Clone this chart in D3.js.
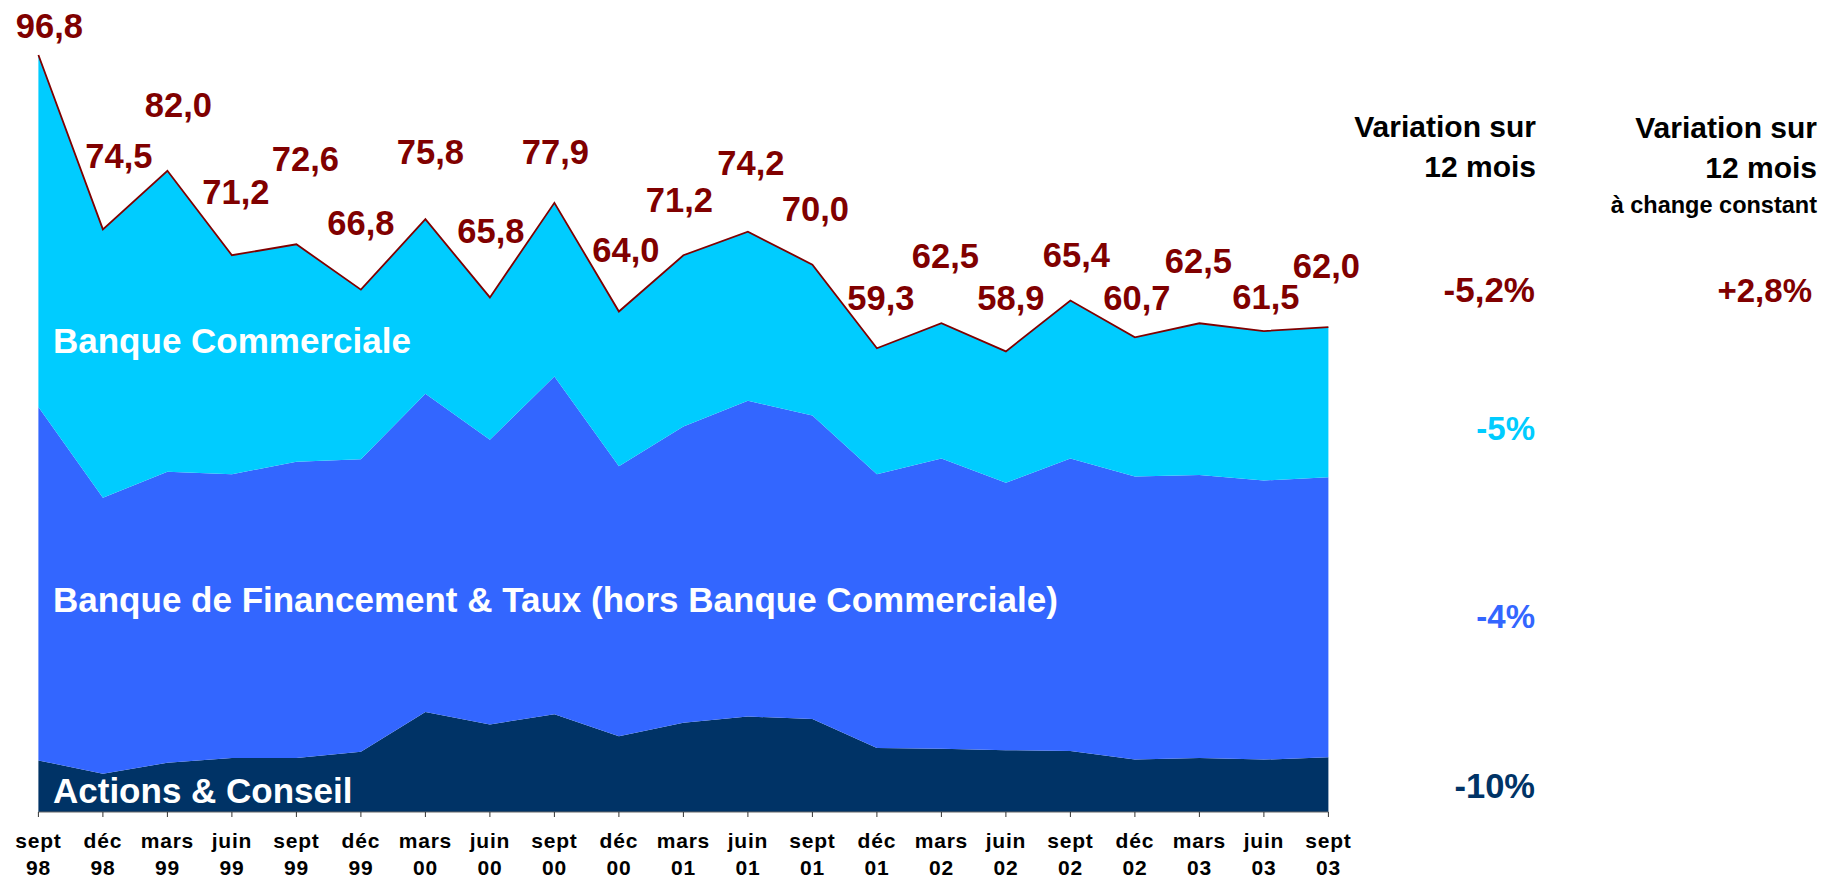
<!DOCTYPE html>
<html>
<head>
<meta charset="utf-8">
<script src="https://cdn.jsdelivr.net/npm/d3@7"></script>
<style>
  body { margin: 0; background: #fff; }
  text { font-family: "Liberation Sans", Arial, sans-serif; font-weight: bold; }
</style>
</head>
<body>
<div id="chart"></div>
<script>
// quarters on the x axis (month / year)
const months = ["sept", "déc", "mars", "juin", "sept", "déc", "mars", "juin", "sept", "déc", "mars",
                "juin", "sept", "déc", "mars", "juin", "sept", "déc", "mars", "juin", "sept"];
const years = ["98", "98", "99", "99", "99", "99", "00", "00", "00", "00", "01",
               "01", "01", "01", "02", "02", "02", "02", "03", "03", "03"];

// stacked series, bottom to top
const actionsConseil = [6.6, 4.9, 6.3, 6.9, 6.9, 7.7, 12.8, 11.2, 12.5, 9.7, 11.4,
                        12.2, 11.9, 8.2, 8.1, 7.9, 7.8, 6.7, 6.9, 6.7, 7.0];
const financementTaux = [45.2, 35.3, 37.2, 36.3, 37.9, 37.4, 40.7, 36.4, 43.2, 34.5, 37.9,
                         40.4, 38.8, 35.0, 37.1, 34.2, 37.4, 36.2, 36.2, 35.7, 35.8];
const banqueCommerciale = [45.0, 34.3, 38.5, 28.0, 27.8, 21.7, 22.3, 18.2, 22.2, 19.8, 21.9,
                           21.6, 19.3, 16.1, 17.3, 16.8, 20.2, 17.8, 19.4, 19.1, 19.2];

const seriesNames = ["Actions & Conseil", "Banque de Financement & Taux (hors Banque Commerciale)", "Banque Commerciale"];
const variations = ["-10%", "-4%", "-5%"];
const totalVariation = "-5,2%";
const totalVariationFx = "+2,8%";

// hand placed value labels (pixel nudge from the point, like in the original)
const labelNudge = [[11, -17], [16, -61], [11, -54], [4, -51], [9, -73], [0, -55], [5, -55],
                    [1, -54], [1, -39], [7, -50], [-4, -43], [3, -57], [3, -44], [4, -38],
                    [4, -55], [5, -41], [6, -34], [2, -27], [-1, -50], [2, -22], [-2, -49]];

const width = 1824, height = 878;
const colors = ["#003366", "#3366FF", "#00CCFF"];
const dark = "#800000";

const svg = d3.select("#chart")
    .append("svg")
    .attr("width", width)
    .attr("height", height);

const keys = months.map((m, i) => i);
const rows = keys.map(i => ({
    i: i,
    ac: actionsConseil[i],
    bft: financementTaux[i],
    bc: banqueCommerciale[i]
}));

const x = d3.scalePoint().domain(keys).range([38.4, 1328.4]);
const y = d3.scaleLinear().domain([0, 100]).range([812, 30]);

const stack = d3.stack().keys(["ac", "bft", "bc"]);
const layers = stack(rows);

const area = d3.area()
    .x(d => x(d.data.i))
    .y0(d => y(d[0]))
    .y1(d => y(d[1]));

svg.selectAll(".layer")
    .data(layers)
    .enter()
    .append("path")
    .attr("class", "layer")
    .attr("d", area)
    .style("fill", (d, i) => colors[i]);

// total line on top
const topLayer = layers[2];
svg.append("path")
    .attr("d", d3.line().x(d => x(d.data.i)).y(d => y(d[1]))(topLayer))
    .style("fill", "none")
    .style("stroke", dark)
    .style("stroke-width", 1.8);

// value labels
svg.selectAll(".val")
    .data(topLayer)
    .enter()
    .append("text")
    .attr("class", "val")
    .attr("x", (d, i) => x(d.data.i) + labelNudge[i][0])
    .attr("y", (d, i) => y(d[1]) + labelNudge[i][1])
    .attr("text-anchor", "middle")
    .style("font-size", "34.5px")
    .style("fill", dark)
    .text(d => d[1].toFixed(1).replace(".", ","));

// x axis
const axis = svg.append("g").attr("transform", "translate(0,812)");
axis.append("line")
    .attr("x1", x(0)).attr("x2", x(keys.length - 1))
    .style("stroke", "#666").style("stroke-width", 1);
axis.selectAll(".tick")
    .data(keys)
    .enter()
    .append("line")
    .attr("x1", d => x(d)).attr("x2", d => x(d))
    .attr("y1", 0).attr("y2", 5)
    .style("stroke", "#333");

const xl = svg.selectAll(".xl")
    .data(keys)
    .enter()
    .append("text")
    .attr("class", "xl")
    .attr("text-anchor", "middle")
    .style("font-size", "21px")
    .style("letter-spacing", "0.8px")
    .style("fill", "#000");
xl.append("tspan").attr("x", d => x(d)).attr("y", 848).text(d => months[d]);
xl.append("tspan").attr("x", d => x(d)).attr("y", 875).text(d => years[d]);

// series names inside the areas
const nameY = [803, 612, 353];
svg.selectAll(".name")
    .data(seriesNames)
    .enter()
    .append("text")
    .attr("class", "name")
    .attr("x", 53)
    .attr("y", (d, i) => nameY[i])
    .style("font-size", "35px")
    .style("fill", "#fff")
    .text(d => d);

// right hand column
const head1 = svg.append("text").attr("text-anchor", "end").style("font-size", "30px").style("fill", "#000");
head1.append("tspan").attr("x", 1536).attr("y", 137).text("Variation sur");
head1.append("tspan").attr("x", 1536).attr("y", 177).text("12 mois");

const head2 = svg.append("text").attr("text-anchor", "end").style("font-size", "30px").style("fill", "#000");
head2.append("tspan").attr("x", 1817).attr("y", 138).text("Variation sur");
head2.append("tspan").attr("x", 1817).attr("y", 178).text("12 mois");
svg.append("text")
    .attr("x", 1817).attr("y", 213)
    .attr("text-anchor", "end")
    .style("font-size", "23.5px")
    .text("à change constant");

svg.append("text")
    .attr("x", 1535).attr("y", 302)
    .attr("text-anchor", "end")
    .style("font-size", "35px")
    .style("fill", dark)
    .text(totalVariation);
svg.append("text")
    .attr("x", 1812).attr("y", 302)
    .attr("text-anchor", "end")
    .style("font-size", "33px")
    .style("fill", dark)
    .text(totalVariationFx);

const varY = [798, 628, 440];
svg.selectAll(".var")
    .data(variations)
    .enter()
    .append("text")
    .attr("class", "var")
    .attr("x", 1535)
    .attr("y", (d, i) => varY[i])
    .attr("text-anchor", "end")
    .style("font-size", (d, i) => i === 0 ? "34.5px" : "33px")
    .style("fill", (d, i) => colors[i])
    .text(d => d);
</script>
</body>
</html>
